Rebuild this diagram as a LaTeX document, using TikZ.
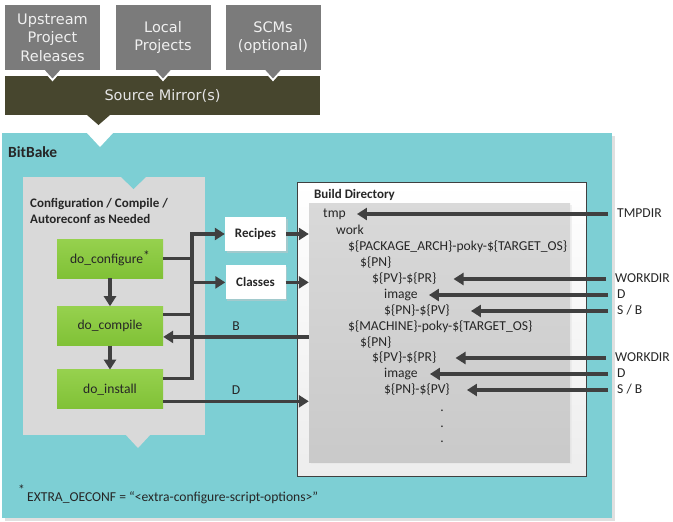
\documentclass[tikz,border=0pt]{standalone}
\usepackage{fontspec}
\setmainfont{Carlito}
\newfontfamily\dejavu{DejaVu Sans}
\usetikzlibrary{calc}
\usetikzlibrary{arrows.meta}
\usetikzlibrary{positioning}
\usetikzlibrary{shadows}

\definecolor{srcgray}{HTML}{7B7B7B}
\definecolor{mirror}{HTML}{47462E}
\definecolor{bbteal}{HTML}{7DCFD4}
\definecolor{cfggray}{HTML}{D9D9D9}
\definecolor{wirecol}{HTML}{404040}
\definecolor{txtcol}{HTML}{262626}
\definecolor{greentop}{HTML}{96D14E}
\definecolor{greenbot}{HTML}{80C136}

\newcommand\bbvar[1]{\$\{#1\}}

\begin{document}
\begin{tikzpicture}[x=1pt,y=-1pt]

\tikzset{
    src/.style = {
    fill=srcgray, text=white!94!black, align=center,
    minimum width=95, minimum height=65, inner sep=0,
    font=\dejavu\fontsize{14.5}{18.5}\selectfont
    },
    txt/.style = {
    text=txtcol, inner sep=0, anchor=west,
    text height=9pt, text depth=3pt,
    font=\fontsize{13.6}{15.5}\selectfont
    },
    task/.style = {
    top color=greentop, bottom color=greenbot,
    minimum width=106, minimum height=39, inner sep=0,
    text=txtcol, font=\fontsize{13.6}{15}\selectfont
    },
    card/.style = {
    fill=white, minimum height=34, inner sep=0,
    drop shadow={shadow xshift=1.5pt, shadow yshift=-1.5pt, fill=black!22},
    text=txtcol, font=\bfseries\fontsize{13}{15}\selectfont
    },
    arr/.style = {
    draw=wirecol, line width=3.2pt,
    -{Triangle[length=10pt,width=12pt]}
    },
    wire/.style = {draw=wirecol, line width=3.2pt}
}

\tikzstyle{rlabel}=[txt, inner xsep=9pt]

\useasboundingbox (0,0) rectangle (673,522);

% sources and mirror
\fill[mirror] (5,76) rectangle (320,115);
\fill[mirror] (87,115) -- (110,115) -- (98.5,125) -- cycle;
\foreach \px in {52.5,163,273}
  \filldraw[fill=srcgray, draw=white, line width=1.8pt] (\px-10,69) -- (\px+10,69) -- (\px,80) -- cycle;

\node (upstream) [src] at (52.5,37.5) {Upstream\\Project\\Releases};
\node (local) [src] at (163,37.5) {Local\\Projects};
\node (scms) [src] at (273,37.5) {SCMs\\(optional)};
\node (mirror) [text=white!90!black, font=\dejavu\fontsize{14.5}{17}\selectfont] at (162.5,96) {Source Mirror(s)};

% bitbake area
\fill[black!12] (5,136) rectangle (615,521);
\fill[bbteal] (2,133) rectangle (612,518);
\fill[white] (87,133) -- (113,133) -- (100,147) -- cycle;
\node (bitbake) [anchor=west, inner sep=0, text=txtcol, font=\bfseries\fontsize{15.5}{17}\selectfont] at (8,152) {BitBake};

% configuration box
\fill[cfggray] (23,177) rectangle (205,435);
\fill[bbteal] (120,176) -- (147,176) -- (133.5,189) -- cycle;
\fill[cfggray] (125,434) -- (151,434) -- (138,448) -- cycle;
\node (cfgtitle) [anchor=west, align=left, inner sep=0, text=txtcol, font=\bfseries\fontsize{13}{16}\selectfont] at (30,211) {Configuration / Compile /\\Autoreconf as Needed};

\node (cfg) [task] at (110,258.5) {do\_configure\raisebox{3pt}{*}};
\node (comp) [task, below=28pt of cfg] {do\_compile};
\node (inst) [task, below=24pt of comp] {do\_install};

\draw[arr] (cfg) -- (comp);
\draw[arr] (comp) -- (inst);

\node (recipes) [card, minimum width=61] at (255.5,234) {Recipes};
\node (classes) [card, minimum width=60, below=14pt of recipes] {Classes};

% build directory
\node (bdir) [draw=wirecol, line width=0.8pt, top color=white, bottom color=black!7,
  minimum width=289, minimum height=294, inner sep=0] at (441.5,329) {};
\node (bdirtitle) [anchor=west, inner sep=0, text=txtcol, font=\bfseries\fontsize{13}{15}\selectfont] at (314,195) {Build Directory};
\node (inner) [top color=black!15, bottom color=black!21, minimum width=261, minimum height=259, inner sep=0,
  drop shadow={shadow xshift=1.5pt, shadow yshift=-1.5pt, fill=black!10}] at (439.5,332.5) {};

\node (tmp) [txt] at (323,214) {tmp};
\node (work) [txt] at (336,231) {work};
\node (arch) [txt] at (348,247) {\bbvar{PACKAGE\_ARCH}-poky-\bbvar{TARGET\_OS}};
\node (pna) [txt] at (360,263) {\bbvar{PN}};
\node (pvpra) [txt] at (372,279) {\bbvar{PV}-\bbvar{PR}};
\node (imagea) [txt] at (384,295) {image};
\node (pnpva) [txt] at (384,311) {\bbvar{PN}-\bbvar{PV}};
\node (mach) [txt] at (348,327) {\bbvar{MACHINE}-poky-\bbvar{TARGET\_OS}};
\node (pnb) [txt] at (360,343) {\bbvar{PN}};
\node (pvprb) [txt] at (372,358) {\bbvar{PV}-\bbvar{PR}};
\node (imageb) [txt] at (384,374) {image};
\node (pnpvb) [txt] at (384,390) {\bbvar{PN}-\bbvar{PV}};
\node (dota) [txt, anchor=center] at (442,408) {.};
\node (dotb) [txt, anchor=center] at (442,424) {.};
\node (dotc) [txt, anchor=center] at (442,439) {.};

\node (tmpdir) [rlabel] at (608,214) {TMPDIR};
\node (workdira) [rlabel] at (606,279) {WORKDIR};
\node (da) [rlabel] at (608,295) {D};
\node (sba) [rlabel] at (608,311) {S / B};
\node (workdirb) [rlabel] at (606,358) {WORKDIR};
\node (db) [rlabel] at (608,374) {D};
\node (sbb) [rlabel] at (608,390) {S / B};

\draw[arr, shorten >=11pt] (tmpdir.west) -- (tmp.east);
\draw[arr, shorten >=17pt] (workdira.west) -- (pvpra.east);
\draw[arr, shorten >=11pt] (da.west) -- (imagea.east);
\draw[arr, shorten >=21pt] (sba.west) -- (pnpva.east);
\draw[arr, shorten >=19pt] (workdirb.west) -- (pvprb.east);
\draw[arr, shorten >=12pt] (db.west) -- (imageb.east);
\draw[arr, shorten >=17pt] (sbb.west) -- (pnpvb.east);

% tasks to recipes, classes and build directory
\coordinate (bus) at (192,0);
\draw[arr] ([yshift=-9pt]inst.north east) -| (bus |- recipes.west) -- (recipes.west);
\draw[wire] (cfg.east) -- (cfg.east -| bus);
\draw[wire] ([yshift=-8pt]comp.north east) coordinate (cout) -- (cout -| bus);
\draw[arr] (bus |- classes.west) -- (classes.west);

\draw[arr] (recipes.east) -- (recipes.east -| inner.west);
\draw[arr] (classes.east) -- (classes.east -| inner.west);

\coordinate (bin) at ([yshift=-11pt]comp.east);
\draw[arr] (bin -| inner.west) -- node[above=2pt, txt, anchor=south] {B} (bin);
\coordinate (dout) at ([yshift=-12pt]inst.east);
\draw[arr] (dout) -- node[above=2pt, txt, anchor=south] {D} (dout -| inner.west);

% footnote
\node (fnstar) [txt] at (18,491) {*};
\node (fn) [txt] at (27,498) {EXTRA\_OECONF = “<extra-configure-script-options>”};

\end{tikzpicture}
\end{document}
